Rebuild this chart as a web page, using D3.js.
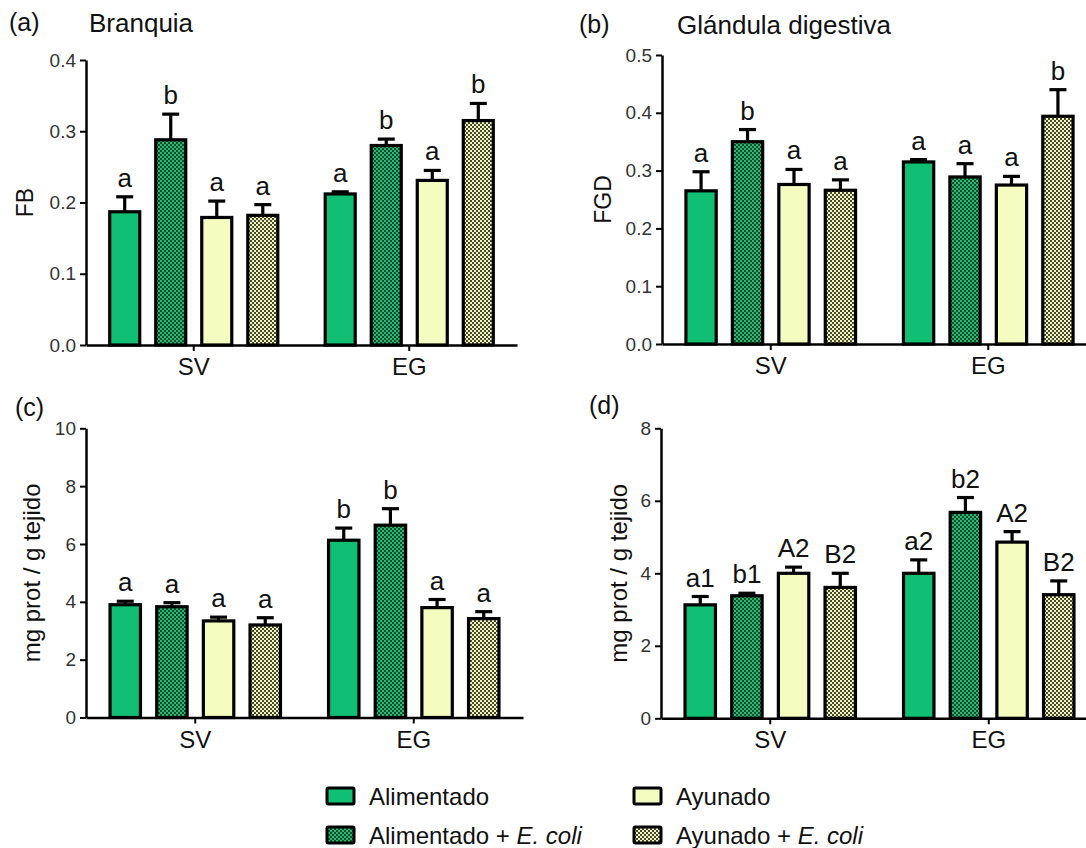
<!DOCTYPE html>
<html>
<head>
<meta charset="utf-8">
<script src="https://cdn.jsdelivr.net/npm/d3@7"></script>
<style>
  html, body { margin: 0; padding: 0; background: #fff; }
  svg { display: block; font-family: "Liberation Sans", Arial, sans-serif; }
  .ytick text { font-size: 19px; fill: #333; }
</style>
</head>
<body>
<svg id="chart" width="1086" height="848"></svg>
<script>
// ---------- DATA ----------
const groups = ["SV", "EG"];
const series = ["Alimentado", "Alimentado + E. coli", "Ayunado", "Ayunado + E. coli"];

// order: SV (4 series), then EG (4 series)
const fbValues  = [0.187, 0.288, 0.179, 0.182, 0.212, 0.280, 0.231, 0.315];
const fbErrors  = [0.021, 0.036, 0.023, 0.015, 0.003, 0.009, 0.014, 0.024];
const fbLetters = ["a", "b", "a", "a", "a", "b", "a", "b"];

const fgdValues  = [0.265, 0.350, 0.276, 0.266, 0.315, 0.289, 0.275, 0.394];
const fgdErrors  = [0.033, 0.021, 0.026, 0.018, 0.004, 0.023, 0.015, 0.046];
const fgdLetters = ["a", "b", "a", "a", "a", "a", "a", "b"];

const protBValues  = [3.90, 3.83, 3.34, 3.20, 6.13, 6.65, 3.80, 3.42];
const protBErrors  = [0.12, 0.14, 0.13, 0.25, 0.42, 0.57, 0.28, 0.24];
const protBLetters = ["a", "a", "a", "a", "b", "b", "a", "a"];

const protGValues  = [3.13, 3.38, 4.00, 3.61, 4.00, 5.68, 4.86, 3.41];
const protGErrors  = [0.23, 0.07, 0.17, 0.39, 0.37, 0.41, 0.29, 0.38];
const protGLetters = ["a1", "b1", "A2", "B2", "a2", "b2", "A2", "B2"];

const fbTicks   = [0, 0.1, 0.2, 0.3, 0.4];
const fgdTicks  = [0, 0.1, 0.2, 0.3, 0.4, 0.5];
const protBTicks = [0, 2, 4, 6, 8, 10];
const protGTicks = [0, 2, 4, 6, 8];

// ---------- STYLE ----------
const svg = d3.select("#chart");
const defs = svg.append("defs");

function checker(id, dark, light) {
  const p = defs.append("pattern").attr("id", id)
    .attr("patternUnits", "userSpaceOnUse").attr("width", 4).attr("height", 4);
  p.append("rect").attr("width", 4).attr("height", 4).attr("fill", dark);
  p.append("rect").attr("x", 0).attr("y", 0).attr("width", 2).attr("height", 2).attr("fill", light);
  p.append("rect").attr("x", 2).attr("y", 2).attr("width", 2).attr("height", 2).attr("fill", light);
}
checker("patGreen", "#0b4e2c", "#2cb874");
checker("patKhaki", "#48482e", "#f0f6c0");

const fills = ["#10bf74", "url(#patGreen)", "#f4fcc0", "url(#patKhaki)"];

function panel(cfg) {
  const x0 = d3.scaleBand().domain(groups).range([cfg.left, cfg.right]).paddingInner(0).paddingOuter(0);
  const bw = x0.bandwidth();
  const x1 = d3.scaleBand().domain(series).range([bw * 0.11, bw * 0.89]).paddingInner(0.348).paddingOuter(0);
  const y = d3.scaleLinear().domain(cfg.domain).range([cfg.bottom, cfg.top]);

  const g = svg.append("g");

  const data = [];
  groups.forEach((grp, gi) => series.forEach((s, si) => {
    const k = gi * 4 + si;
    data.push({ grp, s, si, v: cfg.values[k], e: cfg.errors[k], l: cfg.letters[k] });
  }));

  const eb = g.append("g");
  data.forEach(d => {
    const cx = x0(d.grp) + x1(d.s) + x1.bandwidth() / 2;
    eb.append("line").attr("x1", cx).attr("x2", cx)
      .attr("y1", y(d.v)).attr("y2", y(d.v + d.e))
      .attr("stroke", "#000").attr("stroke-width", 3.2);
    eb.append("line").attr("x1", cx - 8.5).attr("x2", cx + 8.5)
      .attr("y1", y(d.v + d.e)).attr("y2", y(d.v + d.e))
      .attr("stroke", "#000").attr("stroke-width", 3.2);
  });

  g.append("g").selectAll("rect").data(data).join("rect")
    .attr("x", d => x0(d.grp) + x1(d.s))
    .attr("y", d => y(d.v))
    .attr("width", x1.bandwidth())
    .attr("height", d => y(0) - y(d.v))
    .attr("fill", d => fills[d.si])
    .attr("stroke", "#000").attr("stroke-width", 3.2);

  g.append("g").selectAll("text").data(data).join("text")
    .attr("x", d => x0(d.grp) + x1(d.s) + x1.bandwidth() / 2)
    .attr("y", d => y(d.v + d.e) - 10)
    .attr("text-anchor", "middle")
    .attr("font-size", 26)
    .attr("fill", "#111")
    .text(d => d.l);

  const ya = g.append("g").attr("class", "ytick").attr("transform", `translate(${cfg.left},0)`)
    .call(d3.axisLeft(y).tickValues(cfg.ticks).tickFormat(cfg.fmt).tickSize(6).tickSizeOuter(0).tickPadding(4));
  ya.attr("font-size", 19).attr("font-family", "Liberation Sans, Arial, sans-serif");
  ya.select(".domain").attr("stroke", "#000").attr("stroke-width", 2.5);
  ya.selectAll(".tick line").attr("stroke", "#000").attr("stroke-width", 2);
  ya.selectAll(".tick text").attr("font-size", 19).attr("fill", "#333");

  const xa = g.append("g").attr("transform", `translate(0,${cfg.bottom})`)
    .call(d3.axisBottom(x0).tickSize(6).tickSizeOuter(0).tickPadding(7));
  xa.attr("font-size", 24).attr("font-family", "Liberation Sans, Arial, sans-serif");
  xa.select(".domain").attr("stroke", "#000").attr("stroke-width", 2.5);
  xa.selectAll(".tick line").attr("stroke", "#000").attr("stroke-width", 2);
  xa.selectAll(".tick text").attr("font-size", 24).attr("fill", "#111");

  g.append("text")
    .attr("transform", `translate(${cfg.ytX},${(cfg.top + cfg.bottom) / 2}) rotate(-90)`)
    .attr("text-anchor", "middle").attr("font-size", cfg.ytSize).attr("fill", "#111")
    .text(cfg.ytitle);

  g.append("text").attr("x", cfg.labX).attr("y", cfg.labY).attr("font-size", 25).attr("fill", "#111").text(cfg.label);
  if (cfg.title) {
    g.append("text").attr("x", cfg.titleX).attr("y", cfg.labY + 1).attr("font-size", 26).attr("fill", "#111").text(cfg.title);
  }
}

const f1 = d3.format(".1f"), f0 = d3.format("d");

panel({ left: 86, right: 517, top: 60, bottom: 345, domain: [0, 0.4], ticks: fbTicks, fmt: f1,
  values: fbValues, errors: fbErrors, letters: fbLetters,
  ytitle: "FB", ytX: 33, ytSize: 23, label: "(a)", labX: 9, labY: 31, title: "Branquia", titleX: 89 });

panel({ left: 662, right: 1097, top: 55, bottom: 344, domain: [0, 0.5], ticks: fgdTicks, fmt: f1,
  values: fgdValues, errors: fgdErrors, letters: fgdLetters,
  ytitle: "FGD", ytX: 611, ytSize: 23, label: "(b)", labX: 579, labY: 33, title: "Glándula digestiva", titleX: 677 });

panel({ left: 86, right: 523, top: 428.3, bottom: 717.5, domain: [0, 10], ticks: protBTicks, fmt: f0,
  values: protBValues, errors: protBErrors, letters: protBLetters,
  ytitle: "mg prot / g tejido", ytX: 40, ytSize: 24, label: "(c)", labX: 15, labY: 416 });

panel({ left: 661, right: 1098, top: 428.3, bottom: 718.3, domain: [0, 8], ticks: protGTicks, fmt: f0,
  values: protGValues, errors: protGErrors, letters: protGLetters,
  ytitle: "mg prot / g tejido", ytX: 627, ytSize: 24, label: "(d)", labX: 589, labY: 414 });

// ---------- LEGEND ----------
const legendPos = [
  { rx: 327, ty: 805 }, { rx: 327, ty: 844 }, { rx: 634, ty: 805 }, { rx: 634, ty: 844 }
];
const leg = svg.append("g");
series.forEach((s, i) => {
  const p = legendPos[i];
  leg.append("rect").attr("x", p.rx).attr("y", p.ty - 17).attr("width", 27).attr("height", 16)
    .attr("rx", 1.5).attr("fill", fills[i]).attr("stroke", "#000").attr("stroke-width", 3);
  const t = leg.append("text").attr("x", p.rx + 42).attr("y", p.ty).attr("font-size", 24).attr("fill", "#111");
  const parts = s.split(" + ");
  t.append("tspan").text(parts[0]);
  if (parts[1]) {
    t.append("tspan").text(" + ");
    t.append("tspan").attr("font-style", "italic").text(parts[1]);
  }
});
</script>
</body>
</html>
